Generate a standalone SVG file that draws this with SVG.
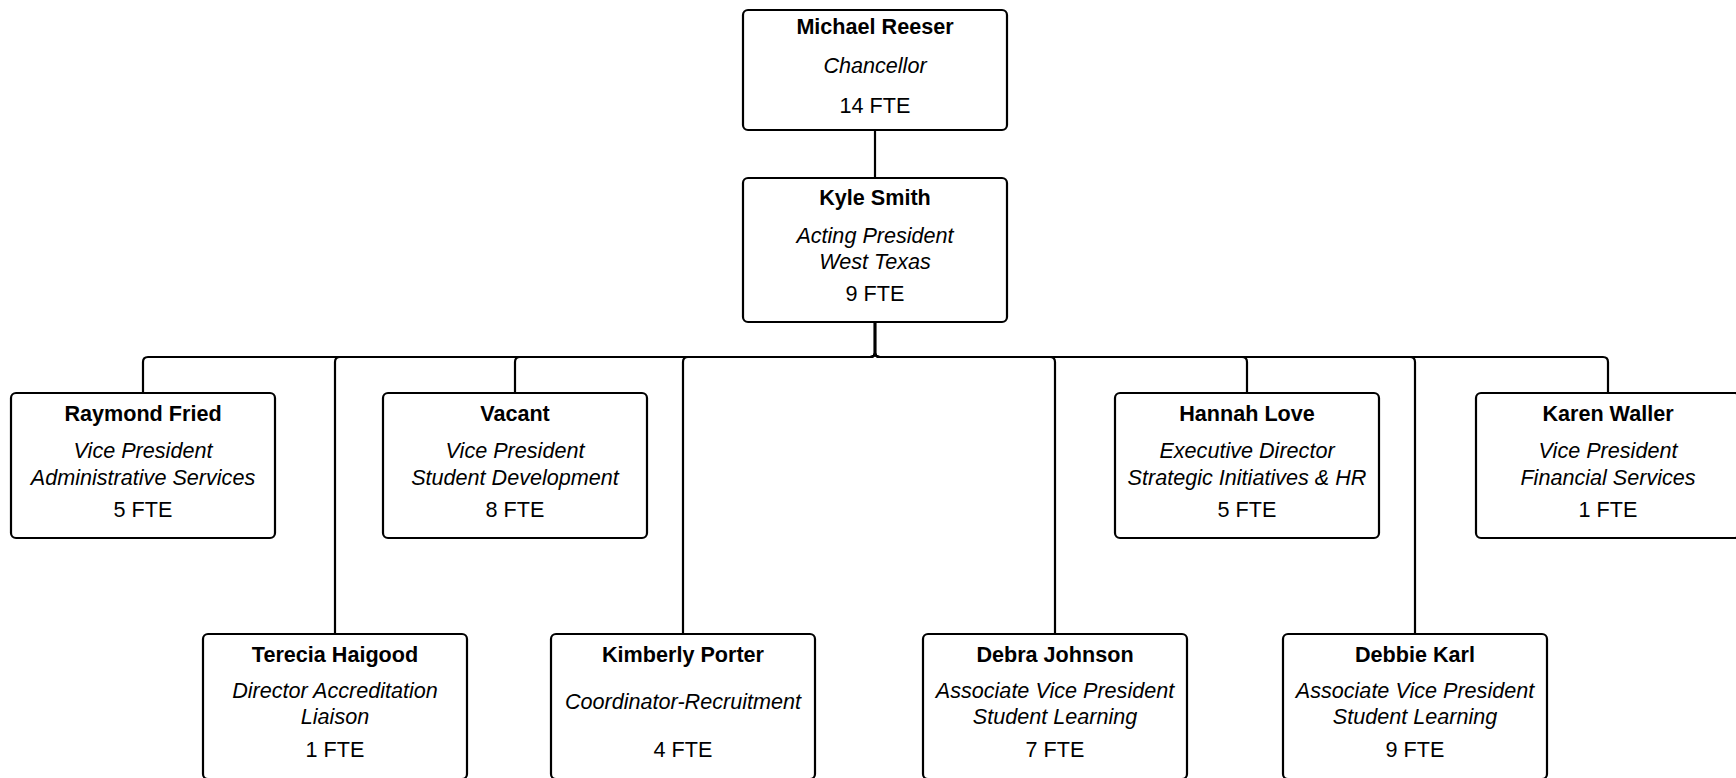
<svg xmlns="http://www.w3.org/2000/svg" width="1736" height="778" viewBox="0 0 1736 778">
<style>
.box{fill:#fff;stroke:#000;stroke-width:2.2}
.c{fill:none;stroke:#000;stroke-width:2.2}
text{font-family:"Liberation Sans",Arial,sans-serif;font-size:21.6px;fill:#000;text-anchor:middle}
.n{font-weight:bold}
.t{font-style:italic}
</style>
<rect width="1736" height="778" fill="#fff"/>
<g id="connectors">
<path class="c" d="M875,130 V178"/>
<path class="c" d="M875,322 V352 Q875,357 870,357 H148 Q143,357 143,362 V393"/>
<path class="c" d="M875,322 V352 Q875,357 870,357 H340 Q335,357 335,362 V634"/>
<path class="c" d="M875,322 V352 Q875,357 870,357 H520 Q515,357 515,362 V393"/>
<path class="c" d="M875,322 V352 Q875,357 870,357 H688 Q683,357 683,362 V634"/>
<path class="c" d="M875,322 V352 Q875,357 880,357 H1050 Q1055,357 1055,362 V634"/>
<path class="c" d="M875,322 V352 Q875,357 880,357 H1242 Q1247,357 1247,362 V393"/>
<path class="c" d="M875,322 V352 Q875,357 880,357 H1410 Q1415,357 1415,362 V634"/>
<path class="c" d="M875,322 V352 Q875,357 880,357 H1603 Q1608,357 1608,362 V393"/>
</g>
<g id="michael">
<rect class="box" x="743" y="10" width="264" height="120" rx="5"/>
<text class="n" x="875" y="34">Michael Reeser</text>
<text class="t" x="875" y="73">Chancellor</text>
<text x="875" y="113">14 FTE</text>
</g>
<g id="kyle">
<rect class="box" x="743" y="178" width="264" height="144" rx="5"/>
<text class="n" x="875" y="205">Kyle Smith</text>
<text class="t" x="875" y="243">Acting President</text>
<text class="t" x="875" y="269">West Texas</text>
<text x="875" y="301">9 FTE</text>
</g>
<g id="raymond">
<rect class="box" x="11" y="393" width="264" height="145" rx="5"/>
<text class="n" x="143" y="421">Raymond Fried</text>
<text class="t" x="143" y="458">Vice President</text>
<text class="t" x="143" y="485">Administrative Services</text>
<text x="143" y="517">5 FTE</text>
</g>
<g id="vacant">
<rect class="box" x="383" y="393" width="264" height="145" rx="5"/>
<text class="n" x="515" y="421">Vacant</text>
<text class="t" x="515" y="458">Vice President</text>
<text class="t" x="515" y="485">Student Development</text>
<text x="515" y="517">8 FTE</text>
</g>
<g id="hannah">
<rect class="box" x="1115" y="393" width="264" height="145" rx="5"/>
<text class="n" x="1247" y="421">Hannah Love</text>
<text class="t" x="1247" y="458">Executive Director</text>
<text class="t" x="1247" y="485">Strategic Initiatives &amp; HR</text>
<text x="1247" y="517">5 FTE</text>
</g>
<g id="karen">
<rect class="box" x="1476" y="393" width="264" height="145" rx="5"/>
<text class="n" x="1608" y="421">Karen Waller</text>
<text class="t" x="1608" y="458">Vice President</text>
<text class="t" x="1608" y="485">Financial Services</text>
<text x="1608" y="517">1 FTE</text>
</g>
<g id="terecia">
<rect class="box" x="203" y="634" width="264" height="145" rx="5"/>
<text class="n" x="335" y="662">Terecia Haigood</text>
<text class="t" x="335" y="698">Director Accreditation</text>
<text class="t" x="335" y="724">Liaison</text>
<text x="335" y="757">1 FTE</text>
</g>
<g id="kimberly">
<rect class="box" x="551" y="634" width="264" height="145" rx="5"/>
<text class="n" x="683" y="662">Kimberly Porter</text>
<text class="t" x="683" y="709">Coordinator-Recruitment</text>
<text x="683" y="757">4 FTE</text>
</g>
<g id="debra">
<rect class="box" x="923" y="634" width="264" height="145" rx="5"/>
<text class="n" x="1055" y="662">Debra Johnson</text>
<text class="t" x="1055" y="698">Associate Vice President</text>
<text class="t" x="1055" y="724">Student Learning</text>
<text x="1055" y="757">7 FTE</text>
</g>
<g id="debbie">
<rect class="box" x="1283" y="634" width="264" height="145" rx="5"/>
<text class="n" x="1415" y="662">Debbie Karl</text>
<text class="t" x="1415" y="698">Associate Vice President</text>
<text class="t" x="1415" y="724">Student Learning</text>
<text x="1415" y="757">9 FTE</text>
</g>
</svg>
